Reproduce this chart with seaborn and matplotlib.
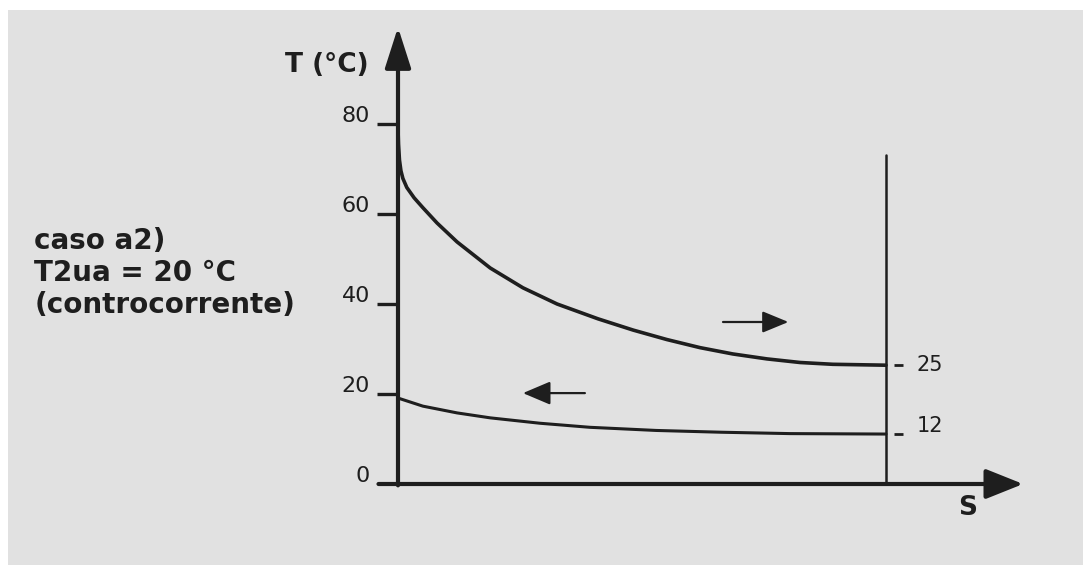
import matplotlib
matplotlib.use("Agg")
import matplotlib.pyplot as plt
import seaborn as sns
import pandas as pd
from matplotlib.patches import Rectangle

# curva superiore (fluido caldo, verso destra)
s_hot = [0.0, 0.001, 0.003, 0.006, 0.01, 0.018, 0.033, 0.051, 0.08, 0.121, 0.189,
         0.256, 0.326, 0.41, 0.482, 0.551, 0.619, 0.686, 0.756, 0.824, 0.891, 1.0]
t_hot = [79.0, 75.5, 72.0, 69.6, 67.9, 65.9, 63.6, 61.4, 58.0, 53.8, 48.0,
         43.6, 40.0, 36.7, 34.2, 32.1, 30.3, 28.9, 27.8, 27.0, 26.6, 26.4]

# curva inferiore (fluido freddo, verso sinistra)
s_cold = [0.0, 0.051, 0.121, 0.189, 0.291, 0.393, 0.529, 0.664, 0.803, 1.0]
t_cold = [19.1, 17.3, 15.8, 14.7, 13.5, 12.6, 11.9, 11.5, 11.2, 11.1]

y_ticks = [0, 20, 40, 60, 80]
end_labels = ["25", "12"]
note_lines = ["caso a2)", "T2ua = 20 °C", "(controcorrente)"]

ink = "#1e1e1e"

sns.set_theme(style="white")
plt.rcParams["font.family"] = ["DejaVu Sans"]

fig = plt.figure(figsize=(10.83, 5.65), dpi=100, facecolor="white")
ax = fig.add_axes([0, 0, 1, 1])
ax.set_facecolor("white")
ax.add_patch(Rectangle((8 / 1083, 0), 1, 1 - 10 / 565, transform=ax.transAxes,
                       facecolor="#e1e1e1", edgecolor="none", zorder=0))
ax.set_xlim(-398 / 488, 685 / 488)
ax.set_ylim(-81 / 4.5, 484 / 4.5)
ax.axis("off")

hot = pd.DataFrame({"S": s_hot, "T": t_hot})
cold = pd.DataFrame({"S": s_cold, "T": t_cold})
sns.lineplot(data=hot, x="S", y="T", ax=ax, color=ink, lw=2.6, legend=False)
sns.lineplot(data=cold, x="S", y="T", ax=ax, color=ink, lw=2.2, legend=False)

# assi con frecce
ax.annotate("", xy=(1.281, 0), xytext=(-0.04, 0),
            arrowprops=dict(arrowstyle="-|>,head_length=1.15,head_width=0.46",
                            mutation_scale=20, lw=3, color=ink, shrinkA=0, shrinkB=0))
ax.annotate("", xy=(0, 101.5), xytext=(0, -0.3),
            arrowprops=dict(arrowstyle="-|>,head_length=1.25,head_width=0.40",
                            mutation_scale=20, lw=3, color=ink, shrinkA=0, shrinkB=0))

# linea verticale di fine scambiatore
ax.plot([1, 1], [0, 73.1], color=ink, lw=1.8)

# tacche e valori asse T
for t in y_ticks[1:]:
    ax.plot([-0.043, 0], [t, t], color=ink, lw=2.4, solid_capstyle="butt")
for t in y_ticks:
    ax.text(-0.057, t + 1.7, str(t), ha="right", va="center", fontsize=16, color=ink)

# valori finali
for lab, t, dy in zip(end_labels, [t_hot[-1], t_cold[-1]], [0.0, 1.7]):
    ax.plot([1.016, 1.034], [t, t], color=ink, lw=2.0, solid_capstyle="butt")
    ax.text(1.062, t + dy, lab, ha="left", va="center", fontsize=15, color=ink)

# frecce di verso
ax.annotate("", xy=(0.80, 36.0), xytext=(0.666, 36.0),
            arrowprops=dict(arrowstyle="-|>,head_length=0.8,head_width=0.33",
                            mutation_scale=20, lw=1.6, color=ink, shrinkA=0, shrinkB=0))
ax.annotate("", xy=(0.256, 20.2), xytext=(0.383, 20.2),
            arrowprops=dict(arrowstyle="-|>,head_length=0.85,head_width=0.36",
                            mutation_scale=20, lw=1.6, color=ink, shrinkA=0, shrinkB=0))

# etichette assi
ax.text(-0.145, 93.1, "T (°C)", ha="center", va="center", fontsize=19,
        fontweight="bold", color=ink)
ax.text(1.168, -5.3, "S", ha="center", va="center", fontsize=19,
        fontweight="bold", color=ink)

# nota a sinistra
ax.text(-0.745, 46.9, "\n".join(note_lines), ha="left", va="center", fontsize=20,
        fontweight="bold", color=ink, linespacing=1.2)

fig.savefig("out.png", dpi=100, facecolor=fig.get_facecolor())
